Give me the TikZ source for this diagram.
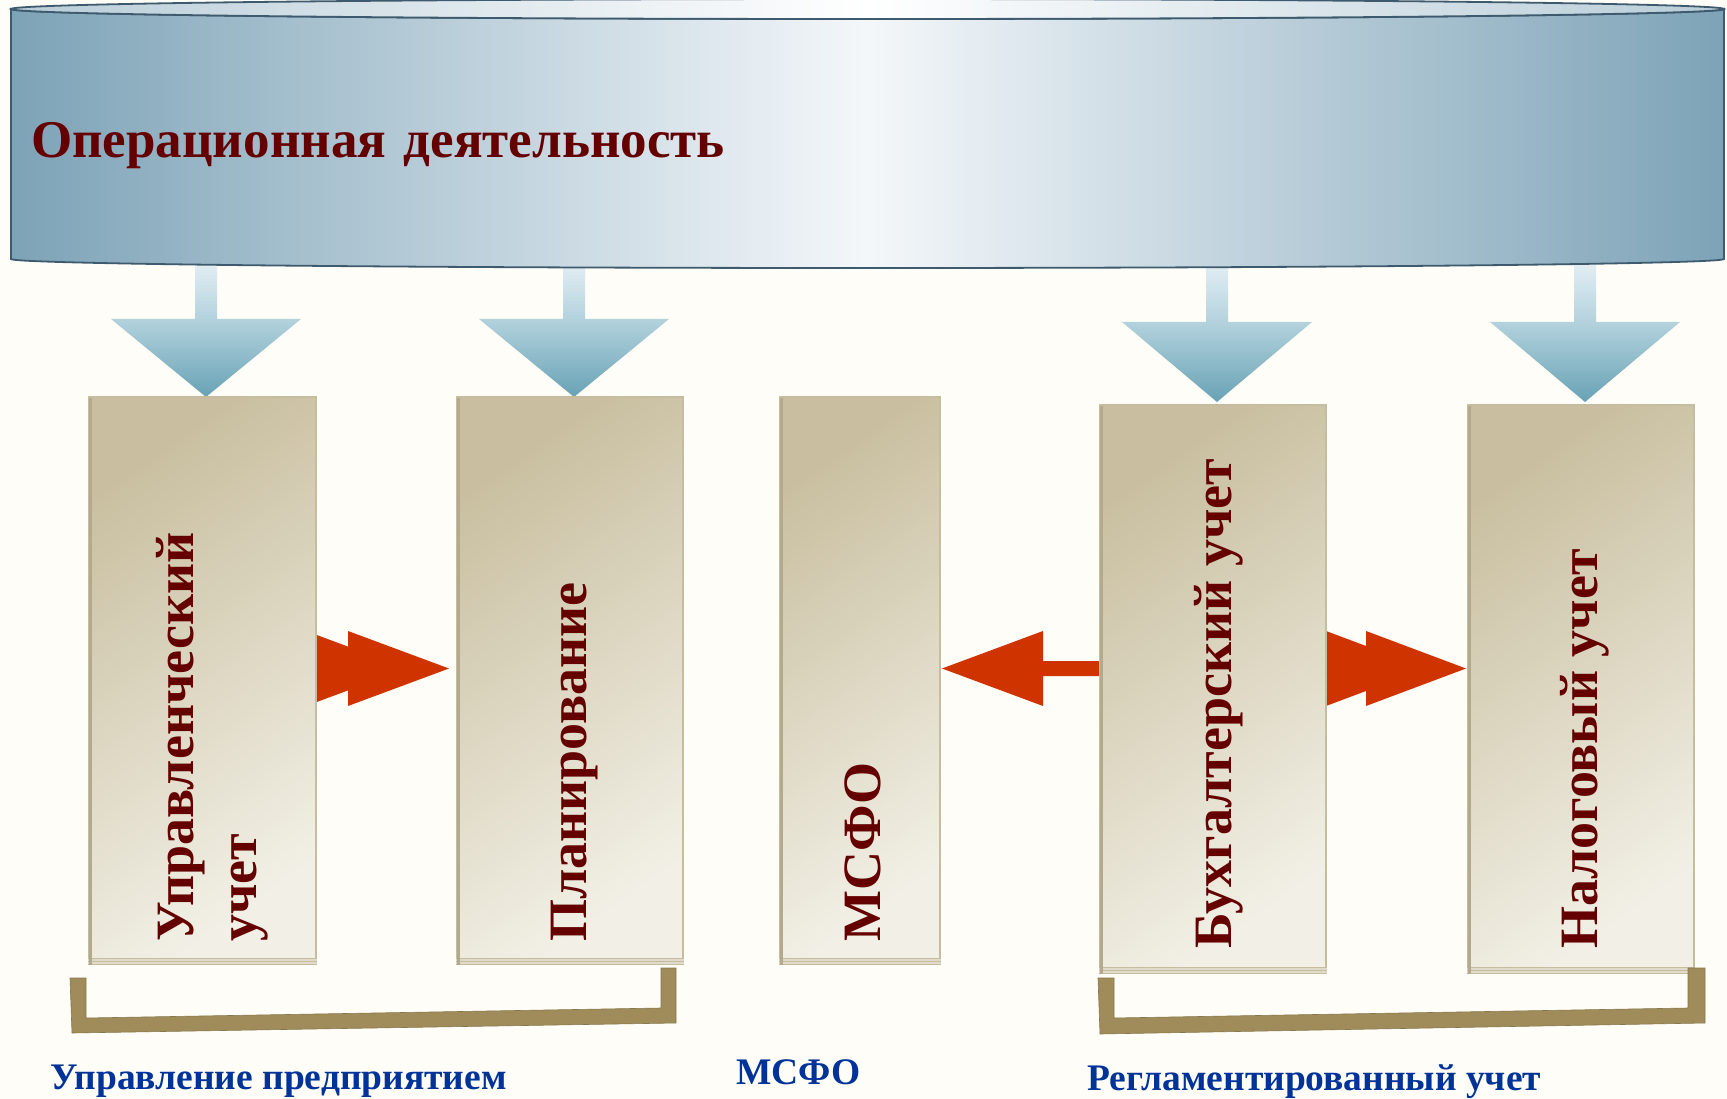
\documentclass[tikz,border=0pt]{standalone}
\usepackage{fontspec}
\setmainfont{Liberation Serif}
\definecolor{bg}{HTML}{FFFDF7}
\definecolor{cylS}{HTML}{7DA3B7}
\definecolor{cylM}{HTML}{F4F7FA}
\definecolor{topS}{HTML}{B9CDD8}
\definecolor{cylB}{HTML}{3E5A6E}
\definecolor{arL}{HTML}{EEF5F8}
\definecolor{arM}{HTML}{B3D2DD}
\definecolor{arD}{HTML}{68A2B5}
\definecolor{boxA}{HTML}{C9BFA0}
\definecolor{boxB}{HTML}{F2F0E6}
\definecolor{boxE}{HTML}{C6BC9E}
\definecolor{redA}{HTML}{CF3300}
\definecolor{txtR}{HTML}{650000}
\definecolor{txtB}{HTML}{003399}
\definecolor{brk}{HTML}{A08C5A}
\tikzset{
  shaft/.style={top color=arL, bottom color=arM, draw=none},
  tri/.style={top color=arM, bottom color=arD, draw=none},
  card/.style={draw=boxE, line width=1.2pt, top color=boxA, bottom color=boxB, shading angle=35, inner sep=0},
  vtext/.style={rotate=90, anchor=west, inner sep=0, text=txtR, font=\fontsize{54}{63}\selectfont\bfseries, align=left},
  redarrow/.style={fill=redA, draw=none},
  bracket/.style={fill=brk, draw=brk!85!black, line width=0.6pt},
  label/.style={anchor=base west, inner sep=0, text=txtB, font=\fontsize{37.5}{40}\selectfont\bfseries}
}
\begin{document}
\begin{tikzpicture}[x=1pt,y=-1pt]
\useasboundingbox (0,0) rectangle (1727,1099);
\fill[bg] (0,0) rectangle (1727,1099);

% down arrows
\foreach \cx/\ty/\ay in {206/319/397, 574/319/397, 1217/322/402, 1585/322/402} {
  \shade[shaft] (\cx-11,250) rectangle (\cx+11,\ty);
  \shade[tri] (\cx-95,\ty) -- (\cx+95,\ty) -- (\cx,\ay) -- cycle;
}

% cylinder
\shade[left color=cylS, right color=cylS, middle color=cylM, draw=cylB, line width=1.8pt]
  (11,9) -- (11,259) arc[start angle=180, end angle=0, x radius=856.5, y radius=9]
  -- (1724,9) arc[start angle=0, end angle=180, x radius=856.5, y radius=10] -- cycle;
\shade[left color=topS, right color=topS, middle color=white, draw=cylB, line width=1.8pt]
  (867.5,9) ellipse [x radius=856.5, y radius=10];
\node[anchor=west, inner sep=0, text=txtR, font=\fontsize{53}{60}\selectfont\bfseries] (title) at (31,146) {Операционная\hspace{0.08em} деятельность};

% red arrows
\fill[redarrow] (306,631) -- (407,668.5) -- (306,706) -- cycle;
\fill[redarrow] (348,631) -- (449,668.5) -- (348,706) -- cycle;
\fill[redarrow] (1326,631) -- (1426,668.5) -- (1326,706) -- cycle;
\fill[redarrow] (1366,631) -- (1466,668.5) -- (1366,706) -- cycle;
\fill[redarrow] (942,668.5) -- (1043,631) -- (1043,661) -- (1102,661) -- (1102,676) -- (1043,676) -- (1043,706) -- cycle;

% boxes
\node[card, minimum width=227pt, minimum height=567pt] (b1) at (202.5,680.5) {};
\node[card, minimum width=226pt, minimum height=567pt] (b2) at (570,680.5) {};
\node[card, minimum width=160pt, minimum height=567pt] (b3) at (860,680.5) {};
\node[card, minimum width=226pt, minimum height=568pt] (b4) at (1213,689) {};
\node[card, minimum width=226pt, minimum height=568pt] (b5) at (1581,689) {};
\foreach \b in {b1,b2,b3,b4,b5} {
  \fill[boxE!55] ([yshift=0.6pt]\b.south west) rectangle ([yshift=6pt]\b.south east);
  \draw[boxE, line width=0.8pt] ([yshift=3.5pt]\b.south west) -- ([yshift=3.5pt]\b.south east);
  \draw[boxE, line width=0.8pt] ([yshift=6.5pt]\b.south west) -- ([yshift=6.5pt]\b.south east);
  \draw[boxE!90!black, line width=2.4pt] ([xshift=2pt,yshift=-2pt]\b.north west) -- ([xshift=2pt]\b.south west);
}

% vertical texts
\node[vtext] (t1) at (212.5,942) {Управленческий\\учет};
\node[vtext] (t2) at (574.5,942) {Планирование};
\node[vtext] (t3) at (863,942) {МСФО};
\node[vtext] (t4) at (1219,949) {Бухгалтерский учет};
\node[vtext] (t5) at (1585,949) {Налоговый учет};

% brackets
\fill[bracket] (70,978) -- (72,1033) -- (676,1023) -- (676,968) -- (661,968) -- (661,1008) -- (86,1018) -- (86,978) -- cycle;
\fill[bracket] (1098,978) -- (1100,1034) -- (1705,1023) -- (1705,968) -- (1688,968) -- (1688,1008) -- (1114,1018) -- (1114,978) -- cycle;

% labels
\node[label] (l1) at (50,1089) {Управление предприятием};
\node[label] (l2) at (736,1084) {МСФО};
\node[label] (l3) at (1087,1090) {Регламентированный учет};
\end{tikzpicture}
\end{document}
